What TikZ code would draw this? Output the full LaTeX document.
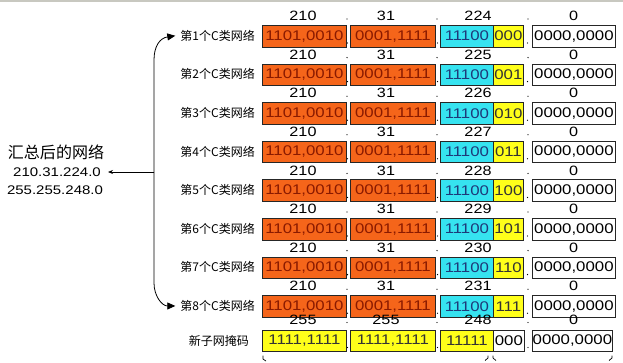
\documentclass[tikz,border=0pt]{standalone}
\usepackage{fontspec}
\setmainfont{Liberation Sans}
\newfontfamily\numfont[FakeStretch=1.2]{Liberation Sans}
\newfontfamily\cjkfont{Noto Sans CJK SC}
\usetikzlibrary{arrows.meta}
\definecolor{org}{HTML}{F5651A}
\definecolor{orgtxt}{HTML}{8A1A00}
\definecolor{cyn}{HTML}{36E3F0}
\definecolor{cyntxt}{HTML}{1E3A7A}
\definecolor{yel}{HTML}{FFFF1A}
\definecolor{topgray}{HTML}{C8C8C0}
\begin{document}
\begin{tikzpicture}[x=1pt,y=-1pt,
  bx/.style={draw=black!85, line width=0.8pt, minimum height=21.5pt, inner sep=0pt,
    font=\numfont\fontsize{14}{15}\selectfont, anchor=north west},
  obox/.style={bx, fill=org, text=orgtxt},
  cbox/.style={bx, fill=cyn, text=cyntxt},
  ybox/.style={bx, fill=yel, text=black!80},
  wbox/.style={bx, fill=white, text=black},
  hdr/.style={font=\numfont\fontsize{13.5}{14}\selectfont, inner sep=0pt},
  lab/.style={font=\cjkfont\fontsize{12}{13}\selectfont, anchor=east, inner sep=1pt},
  sep/.style={circle, fill=black, inner sep=0pt, minimum size=1.3pt},
  big/.style={inner sep=0pt},
  conn/.style={line width=0.8pt},
]
\useasboundingbox (0,0) rectangle (623,362);
\draw[topgray, line width=2pt] (0,1) -- (623,1);

\foreach \i/\third/\bits in {1/224/000,2/225/001,3/226/010,4/227/011,5/228/100,6/229/101,7/230/110,8/231/111}{
  \pgfmathsetmacro{\t}{25+(\i-1)*38.6}
  \pgfmathsetmacro{\c}{\t+10.75}
  \pgfmathsetmacro{\h}{\t-9}
  \node[obox, minimum width=84pt] (a\i) at (262,\t) {1101,0010};
  \node[obox, minimum width=85pt] (b\i) at (350,\t) {0001,1111};
  \node[cbox, minimum width=53pt] (c\i) at (440,\t) {11100};
  \node[ybox, minimum width=30pt] (d\i) at (493,\t) {\bits};
  \node[wbox, minimum width=83pt] (e\i) at (532,\t) {0000,0000};
  \node[hdr] (ha\i) at (303,\h) {210};
  \node[hdr] (hb\i) at (386,\h) {31};
  \node[hdr] (hc\i) at (478,\h) {\third};
  \node[hdr] (he\i) at (573.5,\h) {0};
  \node[sep] (s1\i) at (347.5,\t+18) {};
  \node[sep] (s2\i) at (437.5,\t+18) {};
  \node[sep] (s3\i) at (527.5,\t+18) {};
  \node[sep] (t1\i) at (347,\h+3) {};
  \node[sep] (t2\i) at (437,\h+3) {};
  \node[sep] (t3\i) at (528,\h+3) {};
  \node[lab] (l\i) at (256,\c) {第\i 个C类网络};
}

% mask row
\node[ybox, minimum width=84pt] (ma) at (262,329.5) {1111,1111};
\node[ybox, minimum width=85pt] (mb) at (350,329.5) {1111,1111};
\node[ybox, minimum width=53pt] (mc) at (440,329.5) {11111};
\node[wbox, minimum width=31pt] (md) at (493,329.5) {000};
\node[wbox, minimum width=80pt] (me) at (532,329.5) {0000,0000};
\node[hdr] (hma) at (303,319.5) {255};
\node[hdr] (hmb) at (386,319.5) {255};
\node[hdr] (hmc) at (478,319.5) {248};
\node[hdr] (hme) at (573.5,319.5) {0};
\node[sep] (ms1) at (347.5,347.5) {};
\node[sep] (ms2) at (437.5,347.5) {};
\node[sep] (ms3) at (528,347.5) {};
\node[sep] (mt1) at (347,322.5) {};
\node[sep] (mt2) at (437,322.5) {};
\node[sep] (mt3) at (528,322.5) {};
\node[lab] (lm) at (250,340.5) {新子网掩码};

% summary on the left
\node[big, font=\cjkfont\fontsize{16}{17}\selectfont] (sum) at (56,152) {汇总后的网络};
\node[big, font=\numfont\fontsize{12.5}{14}\selectfont] (ip) at (57,172) {210.31.224.0};
\node[big, font=\numfont\fontsize{12.5}{14}\selectfont] (mask) at (55,190) {255.255.248.0};

\coordinate (j) at (154,172);
\coordinate (jt) at (154,60);
\coordinate (jb) at (154,283);
\draw[conn, -{Stealth[length=5pt,width=4pt]}] (j) -- ([xshift=7pt]ip.east);
\draw[conn, -{Triangle[length=8pt,width=7pt]}] (j) -- (jt) .. controls (154,46) and (160,38) .. ([xshift=-4pt]l1.west);
\draw[conn, -{Triangle[length=8pt,width=7pt]}] (j) -- (jb) .. controls (154,296) and (162,306) .. ([xshift=-4pt]l8.west);

% cut-off marks at the bottom edge
\draw[line width=0.7pt] (263,355.5) -- (263,359) -- (266,361);
\draw[line width=0.7pt] (488,355.5) -- (488,358) -- (485,360.5);
\draw[line width=0.7pt] (493,355.5) -- (493,358) -- (496,360.5);
\draw[line width=0.7pt] (612,355.5) -- (612,358) -- (609,360.5);
\end{tikzpicture}
\end{document}
